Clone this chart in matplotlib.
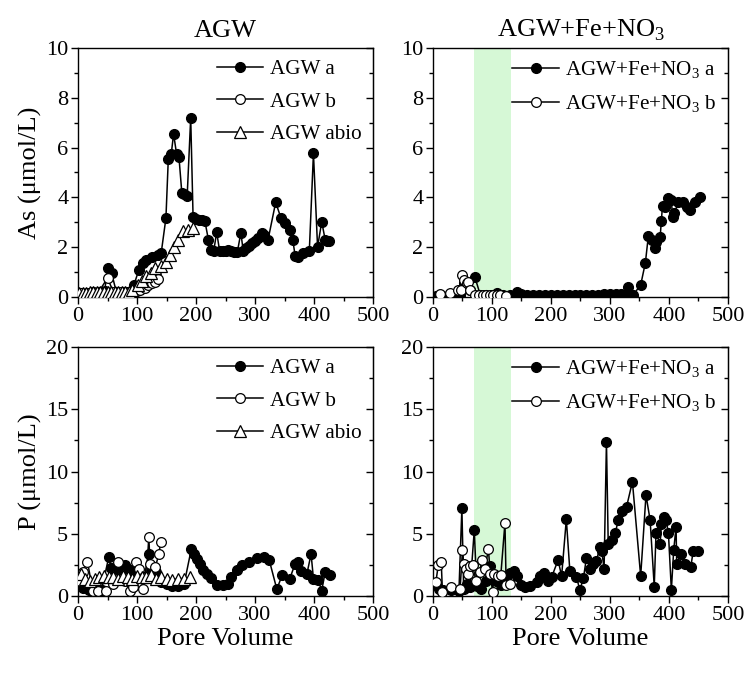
import matplotlib
matplotlib.use("Agg")
import matplotlib.pyplot as plt
from matplotlib.ticker import MultipleLocator

plt.rcParams['font.family'] = ['Liberation Serif', 'DejaVu Serif']
plt.rcParams['mathtext.fontset'] = 'custom'
plt.rcParams['mathtext.rm'] = 'Liberation Serif'

# ---------------- As, AGW column ----------------
as_agw_a_x = [5, 15, 25, 35, 45, 51, 57, 65, 75, 85, 95, 103, 110, 116, 125, 135, 141,
              149, 153, 158, 162, 167, 171, 176, 180, 185, 191, 195, 200, 205, 210, 215,
              221, 225, 230, 235, 240, 245, 250, 255, 260, 265, 270, 276, 280, 285, 290,
              295, 300, 305, 311, 316, 322, 335, 344, 351, 359, 364, 368, 372, 381, 392,
              399, 406, 413, 419, 422, 425]
as_agw_a_y = [0.15, 0.18, 0.2, 0.2, 0.25, 1.18, 0.95, 0.2, 0.2, 0.2, 0.5, 1.08, 1.35, 1.48,
              1.59, 1.69, 1.77, 3.17, 5.53, 5.74, 6.55, 5.75, 5.64, 4.17, 4.15, 4.05, 7.2,
              3.22, 3.15, 3.1, 3.1, 3.05, 2.3, 1.9, 1.85, 2.6, 1.85, 1.85, 1.85, 1.9, 1.85,
              1.8, 1.8, 2.58, 1.85, 1.95, 2.05, 2.15, 2.25, 2.35, 2.57, 2.5, 2.29, 3.8, 3.17,
              2.97, 2.7, 2.29, 1.65, 1.6, 1.77, 1.84, 5.77, 2.0, 3.02, 2.29, 2.25, 2.25]

as_agw_b_x = [5, 15, 25, 35, 50, 60, 70, 80, 90, 100, 105, 113, 119, 125, 131, 136]
as_agw_b_y = [0.15, 0.15, 0.2, 0.2, 0.76, 0.2, 0.2, 0.2, 0.2, 0.25, 0.3, 0.36, 0.47,
              0.55, 0.6, 0.74]

as_agw_abio_x = [2, 8, 14, 20, 26, 32, 38, 44, 50, 56, 62, 68, 74, 80, 86, 92, 101, 108,
                 116, 123, 130, 140, 149, 156, 163, 170, 178, 186, 195]
as_agw_abio_y = [0.15, 0.15, 0.18, 0.2, 0.2, 0.2, 0.2, 0.2, 0.2, 0.2, 0.2, 0.2, 0.2, 0.2,
                 0.22, 0.28, 0.5, 0.65, 0.85, 0.95, 1.15, 1.25, 1.4, 1.7, 2.0, 2.3, 2.66,
                 2.7, 2.78]

# ---------------- As, AGW+Fe+NO3 column ----------------
as_fe_a_x = [5, 15, 25, 35, 45, 52, 57, 63, 71, 80, 90, 100, 108, 118, 130, 142, 150, 160,
             170, 180, 190, 200, 210, 220, 230, 240, 250, 260, 270, 280, 290, 300, 310,
             318, 325, 331, 339, 352, 360, 365, 372, 376, 378, 385, 387, 389, 394, 399,
             404, 406, 409, 416, 424, 430, 436, 444, 452]
as_fe_a_y = [0.05, 0.05, 0.05, 0.08, 0.1, 0.55, 0.45, 0.3, 0.8, 0.1, 0.1, 0.1, 0.16, 0.1,
             0.1, 0.21, 0.12, 0.1, 0.1, 0.08, 0.08, 0.08, 0.1, 0.1, 0.08, 0.1, 0.1, 0.1,
             0.1, 0.1, 0.12, 0.12, 0.12, 0.12, 0.1, 0.39, 0.08, 0.48, 1.38, 2.45, 2.3,
             1.96, 2.2, 2.4, 3.05, 3.67, 3.6, 3.98, 3.9, 3.23, 3.37, 3.8, 3.8, 3.6, 3.48,
             3.8, 4.03]

as_fe_b_x = [12, 29, 43, 47, 49, 52, 57, 59, 62, 72, 78, 84, 90, 96, 102, 108, 114, 123]
as_fe_b_y = [0.12, 0.15, 0.3, 0.3, 0.9, 0.7, 0.55, 0.6, 0.3, 0.08, 0.08, 0.08, 0.08, 0.08,
             0.08, 0.08, 0.08, 0.05]

# ---------------- P, AGW column ----------------
p_agw_a_x = [3, 8, 18, 28, 40, 52, 56, 62, 68, 79, 85, 93, 100, 105, 112, 120, 126, 132,
             140, 150, 160, 170, 180, 192, 197, 202, 207, 212, 218, 225, 235, 245, 255,
             259, 269, 278, 289, 303, 316, 324, 337, 346, 359, 368, 373, 378, 388, 395,
             399, 407, 413, 419, 427]
p_agw_a_y = [1.5, 0.63, 0.5, 0.5, 0.5, 3.1, 2.24, 2.3, 2.1, 2.5, 2.2, 1.9, 2.1, 1.6, 1.5,
             3.4, 2.1, 1.9, 1.1, 1.0, 0.8, 0.8, 1.0, 3.77, 3.4, 3.0, 2.6, 2.1, 1.8, 1.44,
             0.88, 0.9, 1.0, 1.55, 2.09, 2.5, 2.76, 3.03, 3.16, 2.9, 0.54, 1.69, 1.4, 2.6,
             2.75, 1.97, 1.8, 3.37, 1.4, 1.29, 0.43, 1.95, 1.69]

p_agw_b_x = [3, 8, 16, 25, 34, 47, 60, 68, 80, 88, 94, 99, 104, 110, 116, 120, 122, 131,
             137, 140]
p_agw_b_y = [1.2, 1.95, 2.76, 0.43, 0.43, 0.43, 1.0, 2.76, 1.2, 0.4, 0.7, 2.76, 2.2, 0.6,
             1.5, 4.77, 2.6, 2.3, 3.37, 4.3]

p_agw_abio_x = [5, 12, 20, 28, 36, 44, 52, 60, 68, 76, 84, 92, 100, 108, 116, 124, 132,
                140, 150, 160, 170, 180, 190]
p_agw_abio_y = [1.8, 1.4, 1.2, 1.4, 1.5, 1.6, 1.5, 1.5, 1.4, 1.6, 1.5, 1.4, 1.6, 1.5, 1.5,
                1.7, 1.4, 1.5, 1.4, 1.3, 1.4, 1.4, 1.5]

# ---------------- P, AGW+Fe+NO3 column ----------------
p_fe_a_x = [5, 11, 17, 30, 44, 49, 52, 57, 63, 70, 74, 82, 90, 96, 99, 106, 115, 124, 130,
            137, 142, 150, 156, 165, 176, 181, 189, 195, 201, 212, 218, 226, 232, 243, 249,
            255, 260, 266, 272, 277, 283, 286, 290, 294, 297, 303, 309, 314, 320, 328, 338,
            352, 361, 368, 375, 378, 385, 387, 392, 395, 399, 404, 408, 412, 413, 421, 427,
            437, 441, 450]
p_fe_a_y = [0.9, 0.6, 0.5, 0.5, 0.4, 7.04, 0.6, 1.0, 0.7, 5.3, 0.8, 0.6, 1.2, 2.4, 1.8,
            1.2, 0.9, 1.3, 1.82, 2.03, 1.57, 0.9, 0.75, 0.8, 1.15, 1.6, 1.82, 1.2, 1.5,
            2.89, 1.6, 6.16, 2.0, 1.55, 0.48, 1.45, 3.03, 2.2, 2.6, 2.8, 3.96, 3.6, 2.2,
            12.39, 4.2, 4.5, 5.06, 6.1, 6.85, 7.15, 9.18, 1.6, 8.11, 6.1, 0.75, 5.09, 4.15,
            5.76, 6.37, 6.1, 5.1, 0.48, 3.7, 5.57, 2.6, 3.4, 2.6, 2.36, 3.6, 3.6]

p_fe_b_x = [5, 9, 14, 16, 30, 46, 50, 52, 56, 60, 62, 67, 73, 79, 83, 88, 94, 97, 101, 104,
            110, 115, 122, 124, 130]
p_fe_b_y = [1.15, 2.49, 2.76, 0.35, 0.75, 0.6, 3.69, 2.6, 2.2, 1.8, 2.4, 2.5, 1.2, 1.9,
            2.89, 2.2, 3.77, 1.8, 0.35, 1.8, 1.6, 1.7, 5.89, 0.88, 1.0]

# shaded interval on the AGW+Fe+NO3 panels
shade_lo, shade_hi = 70, 132

fig = plt.figure(figsize=(7.53, 6.73), dpi=100)

ax_tl = fig.add_axes([0.1036, 0.5587, 0.3918, 0.3700])
ax_tr = fig.add_axes([0.5750, 0.5587, 0.3918, 0.3700])
ax_bl = fig.add_axes([0.1036, 0.1144, 0.3918, 0.3700])
ax_br = fig.add_axes([0.5750, 0.1144, 0.3918, 0.3700])

ms = 7.0
filled = dict(color='black', marker='o', markersize=ms, markerfacecolor='black',
              markeredgecolor='black', linewidth=1.1)
hollow = dict(color='black', marker='o', markersize=ms, markerfacecolor='white',
              markeredgecolor='black', markeredgewidth=0.9, linewidth=1.1)
tri = dict(color='black', marker='^', markersize=ms + 1, markerfacecolor='white',
           markeredgecolor='black', markeredgewidth=0.9, linewidth=1.1)

# As panels
ax_tl.plot(as_agw_a_x, as_agw_a_y, label='AGW a', zorder=3, **filled)
ax_tl.plot(as_agw_b_x, as_agw_b_y, label='AGW b', zorder=4, **hollow)
ax_tl.plot(as_agw_abio_x, as_agw_abio_y, label='AGW abio', zorder=5, **tri)

ax_tr.axvspan(shade_lo, shade_hi, color='#d6f8d6', zorder=0, linewidth=0)
ax_tr.plot(as_fe_a_x, as_fe_a_y, label='AGW+Fe+NO$_3$ a', zorder=3, **filled)
ax_tr.plot(as_fe_b_x, as_fe_b_y, label='AGW+Fe+NO$_3$ b', zorder=4, **hollow)

# P panels
ax_bl.plot(p_agw_a_x, p_agw_a_y, label='AGW a', zorder=3, **filled)
ax_bl.plot(p_agw_b_x, p_agw_b_y, label='AGW b', zorder=4, **hollow)
ax_bl.plot(p_agw_abio_x, p_agw_abio_y, label='AGW abio', zorder=5, **tri)

ax_br.axvspan(shade_lo, shade_hi, color='#d6f8d6', zorder=0, linewidth=0)
ax_br.plot(p_fe_a_x, p_fe_a_y, label='AGW+Fe+NO$_3$ a', zorder=3, **filled)
ax_br.plot(p_fe_b_x, p_fe_b_y, label='AGW+Fe+NO$_3$ b', zorder=4, **hollow)

tick_fs = 16
for ax in (ax_tl, ax_tr, ax_bl, ax_br):
    ax.set_xlim(0, 500)
    ax.xaxis.set_major_locator(MultipleLocator(100))
    ax.xaxis.set_minor_locator(MultipleLocator(50))
    for s in ax.spines.values():
        s.set_linewidth(1.0)
    ax.tick_params(which='both', left=True, bottom=True, right=False, top=False,
                   direction='out', labelsize=tick_fs, pad=2)
    ax.tick_params(which='major', length=5, width=1.0)
    ax.tick_params(which='minor', length=3, width=1.0)
    # inward ticks on the right spine
    sec = ax.secondary_yaxis('right')
    sec.tick_params(which='both', direction='in', labelright=False)
    sec.tick_params(which='major', length=5, width=1.0)
    sec.tick_params(which='minor', length=3, width=1.0)
    ax._sec = sec

for ax in (ax_tl, ax_tr):
    ax.set_ylim(0, 10)
    ax.yaxis.set_major_locator(MultipleLocator(2))
    ax.yaxis.set_minor_locator(MultipleLocator(1))
    ax._sec.yaxis.set_major_locator(MultipleLocator(2))
    ax._sec.yaxis.set_minor_locator(MultipleLocator(1))

for ax in (ax_bl, ax_br):
    ax.set_ylim(0, 20)
    ax.yaxis.set_major_locator(MultipleLocator(5))
    ax.yaxis.set_minor_locator(MultipleLocator(2.5))
    ax._sec.yaxis.set_major_locator(MultipleLocator(5))
    ax._sec.yaxis.set_minor_locator(MultipleLocator(2.5))

label_fs = 19
ax_tl.set_ylabel('As (μmol/L)', fontsize=label_fs, labelpad=3)
ax_bl.set_ylabel('P (μmol/L)', fontsize=label_fs, labelpad=3)
ax_bl.set_xlabel('Pore Volume', fontsize=label_fs, labelpad=2)
ax_br.set_xlabel('Pore Volume', fontsize=label_fs, labelpad=2)
ax_tl.set_title('AGW', fontsize=label_fs, pad=8)
ax_tr.set_title('AGW+Fe+NO$_3$', fontsize=label_fs, pad=8)

leg_kw = dict(loc='upper right', frameon=False, fontsize=15.2, handlelength=2.2,
              handletextpad=0.3, labelspacing=0.6, borderaxespad=0.15)
for ax in (ax_tl, ax_tr, ax_bl, ax_br):
    ax.legend(**leg_kw)

fig.savefig('out.png', dpi=100)
